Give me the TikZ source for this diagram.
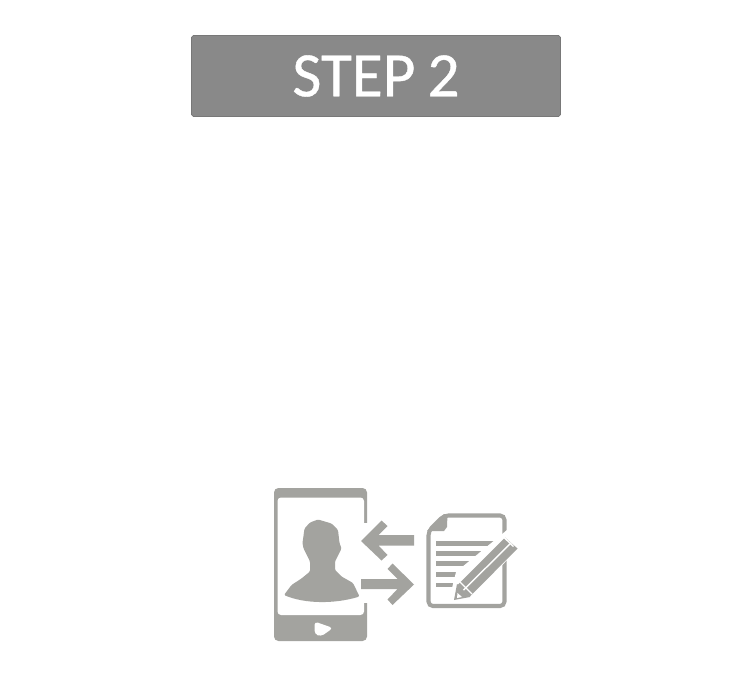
\documentclass[tikz,border=0pt]{standalone}
\usepackage{fontspec}
\setmainfont{Carlito}
\newfontfamily\bannerfont[FakeBold=0.6,WordSpace=0.85]{Carlito}
\usepackage{xcolor}
\definecolor{bannergrey}{RGB}{137,137,137}
\definecolor{bannerline}{RGB}{120,120,120}
\definecolor{icongrey}{RGB}{163,163,159}
\usetikzlibrary{shapes,arrows.meta,positioning,calc}

\begin{document}
\begin{tikzpicture}[x=0.02cm, y=-0.02cm,
    banner/.style={rectangle, draw=bannerline, fill=bannergrey, line width=0.4pt, rounded corners=1pt,
        minimum width=7.38cm, minimum height=1.62cm, text=white, inner sep=0pt, font=\bannerfont\fontsize{36}{36}\selectfont},
    iconfill/.style={fill=icongrey, draw=none},
    gapfill/.style={fill=white, draw=none},
    docrule/.style={draw=icongrey, line width=2.5pt}]
    \useasboundingbox (0,0) rectangle (750,678);

    \node[banner] (stepbanner) at (376,76) {STEP 2};

    % phone
    \fill[iconfill, rounded corners=2.5pt] (274,488) rectangle (367,641);
    \fill[gapfill, rounded corners=2pt] (277.5,497.5) rectangle (364,615);
    \fill[gapfill] (363,523) rectangle (369,603);
    \fill[gapfill, rounded corners=2pt] (314.5,621.5) -- (333,628) -- (321,636.5) -- (314.5,634) -- cycle;

    % person
    \fill[iconfill, rounded corners=0.7pt] (318,519.5) -- (331.5,523.5) -- (338,530) -- (339.5,543) -- (341.5,548.5)
        -- (335,561.5) -- (335,570) -- (341.5,576.5) -- (353,583) -- (359.5,596.5)
        .. controls (335,604) and (305,604) .. (284,595)
        -- (291.5,585) -- (301.5,578.5) -- (310,571.5) -- (310,561.5) -- (303.5,548.5)
        -- (302.5,543) -- (304.5,528.5) -- (310,522.5) -- cycle;

    % arrows
    \fill[iconfill] (361,541) -- (381.5,520.5) -- (387.5,526) -- (378.5,535) -- (414,535) -- (414,545.5)
        -- (378.5,545.5) -- (387.5,555) -- (381.5,560.5) -- cycle;
    \fill[iconfill] (414,584.5) -- (392.5,563.5) -- (387.5,569) -- (397.5,579) -- (361,579) -- (361,589)
        -- (397.5,589) -- (387.5,599.5) -- (392.5,605) -- cycle;

    % document
    \draw[icongrey, line width=2.3pt, rounded corners=2.5pt]
        (428.5,531) -- (444,515.5) -- (504.5,515.5) -- (504.5,606) -- (428.5,606) -- cycle;
    \fill[iconfill] (427,531) -- (444,514) -- (447.5,514) -- (447,527) -- (444,531) -- cycle;
    \foreach \yy/\xx in {543.5/495, 553.5/487, 563.5/473, 574.5/463, 585/453} {
        \draw[docrule] (436,\yy) -- (\xx,\yy);
    }

    % pencil
    \fill[gapfill] (449,600) -- (456,572) -- (507,530) -- (520,540) -- (520,546) -- (470,600) -- cycle;
    \fill[iconfill] (457.5,585) -- (505,537.5) -- (517.5,548.5) -- (469.5,597) -- cycle;
    \draw[white, line width=0.8pt] (463,590.5) -- (511,543);
    \draw[white, line width=0.8pt] (460,582) -- (472,594);
    \draw[white, line width=0.8pt] (501.5,535) -- (513.5,546.5);
    \fill[iconfill] (454,600) -- (457,584) -- (470,597) -- cycle;
    \fill[gapfill] (457.5,593) -- (462,597) -- (457,598) -- cycle;
\end{tikzpicture}
\end{document}
